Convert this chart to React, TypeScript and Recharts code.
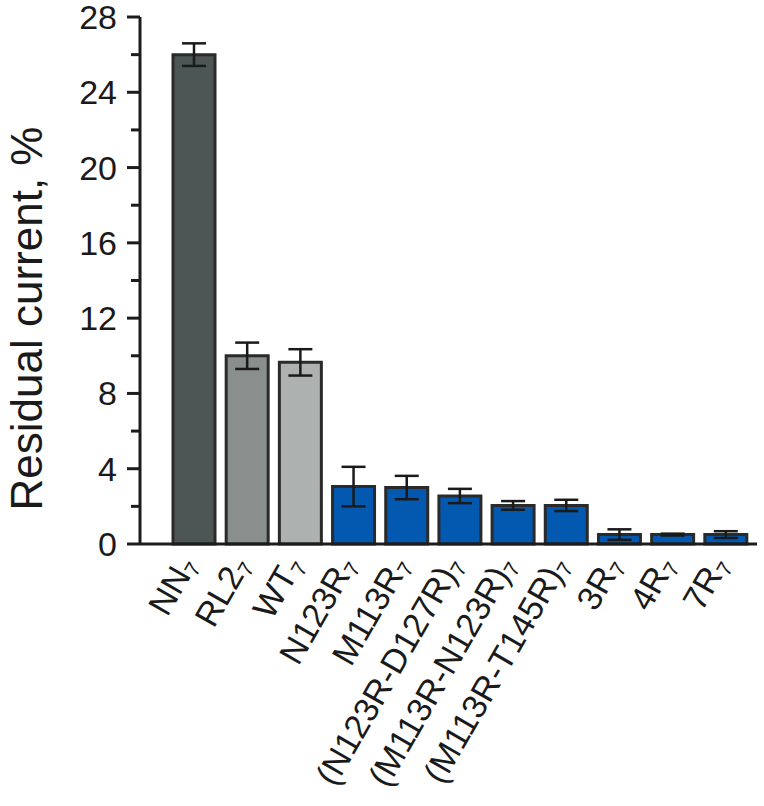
import { BarChart, Bar, XAxis, YAxis, Cell, ErrorBar } from "recharts";

const labels = [
  "NN",
  "RL2",
  "WT",
  "N123R",
  "M113R",
  "(N123R-D127R)",
  "(M113R-N123R)",
  "(M113R-T145R)",
  "3R",
  "4R",
  "7R",
];
const residual = [26.0, 10.0, 9.65, 3.05, 3.0, 2.55, 2.05, 2.05, 0.5, 0.5, 0.5];
const errors = [0.6, 0.7, 0.7, 1.05, 0.62, 0.38, 0.23, 0.3, 0.28, 0.05, 0.18];
const fills = [
  "#4d5654",
  "#898f8d",
  "#adb2b0",
  "#0358b0",
  "#0358b0",
  "#0358b0",
  "#0358b0",
  "#0358b0",
  "#0358b0",
  "#0358b0",
  "#0358b0",
];
const yTicks = [0, 2, 4, 6, 8, 10, 12, 14, 16, 18, 20, 22, 24, 26, 28];

const data = labels.map((name, i) => ({
  name,
  value: residual[i],
  err: errors[i],
}));

const AXIS = "#1c1c1c";
const FONT = "Liberation Sans, Arial, sans-serif";

function YTick(props: any) {
  const { x, y, payload } = props;
  const major = payload.value % 4 === 0;
  return (
    <g>
      <line x1={x - (major ? 13 : 9)} x2={x} y1={y} y2={y} stroke={AXIS} strokeWidth={3} />
      {major && (
        <text
          x={x - 23}
          y={y}
          dy={12}
          textAnchor="end"
          fontFamily={FONT}
          fontSize={34}
          fill="#1a1a1a"
        >
          {payload.value}
        </text>
      )}
    </g>
  );
}

function XTick(props: any) {
  const { x, y, payload } = props;
  const ax = x + 4;
  const ay = y + 13;
  return (
    <text
      x={ax}
      y={ay}
      textAnchor="end"
      transform={`rotate(-60, ${ax}, ${ay})`}
      fontFamily={FONT}
      fontSize={34}
      fill="#1a1a1a"
    >
      {payload.value}
      <tspan fontSize={21} dy={5}>
        7
      </tspan>
    </text>
  );
}

function YLabel(props: any) {
  const { viewBox } = props;
  const cx = viewBox.x + 42;
  const cy = viewBox.y + viewBox.height / 2 + 38;
  return (
    <text
      x={cx}
      y={cy}
      textAnchor="middle"
      transform={`rotate(-90, ${cx}, ${cy})`}
      fontFamily={FONT}
      fontSize={44}
      fill="#1a1a1a"
    >
      Residual current, %
    </text>
  );
}

export default function App() {
  return (
    <div style={{ position: "absolute", left: 0, top: 0, background: "#fff" }}>
      <BarChart
        width={764}
        height={806}
        data={data}
        margin={{ top: 17, right: 7, bottom: 0, left: 0 }}
        barSize={42}
      >
        <XAxis
          dataKey="name"
          height={262}
          interval={0}
          padding={{ left: 27, right: 5 }}
          axisLine={{ stroke: AXIS, strokeWidth: 3 }}
          tickLine={false}
          tick={<XTick />}
        />
        <YAxis
          width={140}
          domain={[0, 28]}
          ticks={yTicks}
          interval={0}
          tickSize={0}
          tickMargin={0}
          tickLine={false}
          axisLine={{ stroke: AXIS, strokeWidth: 3 }}
          tick={<YTick />}
          label={<YLabel />}
        />
        <Bar dataKey="value" stroke="#2a2a2a" strokeWidth={3} isAnimationActive={false}>
          {data.map((d, i) => (
            <Cell key={d.name} fill={fills[i]} />
          ))}
          <ErrorBar dataKey="err" width={12} stroke="#1a1a1a" strokeWidth={2.5} />
        </Bar>
      </BarChart>
    </div>
  );
}
